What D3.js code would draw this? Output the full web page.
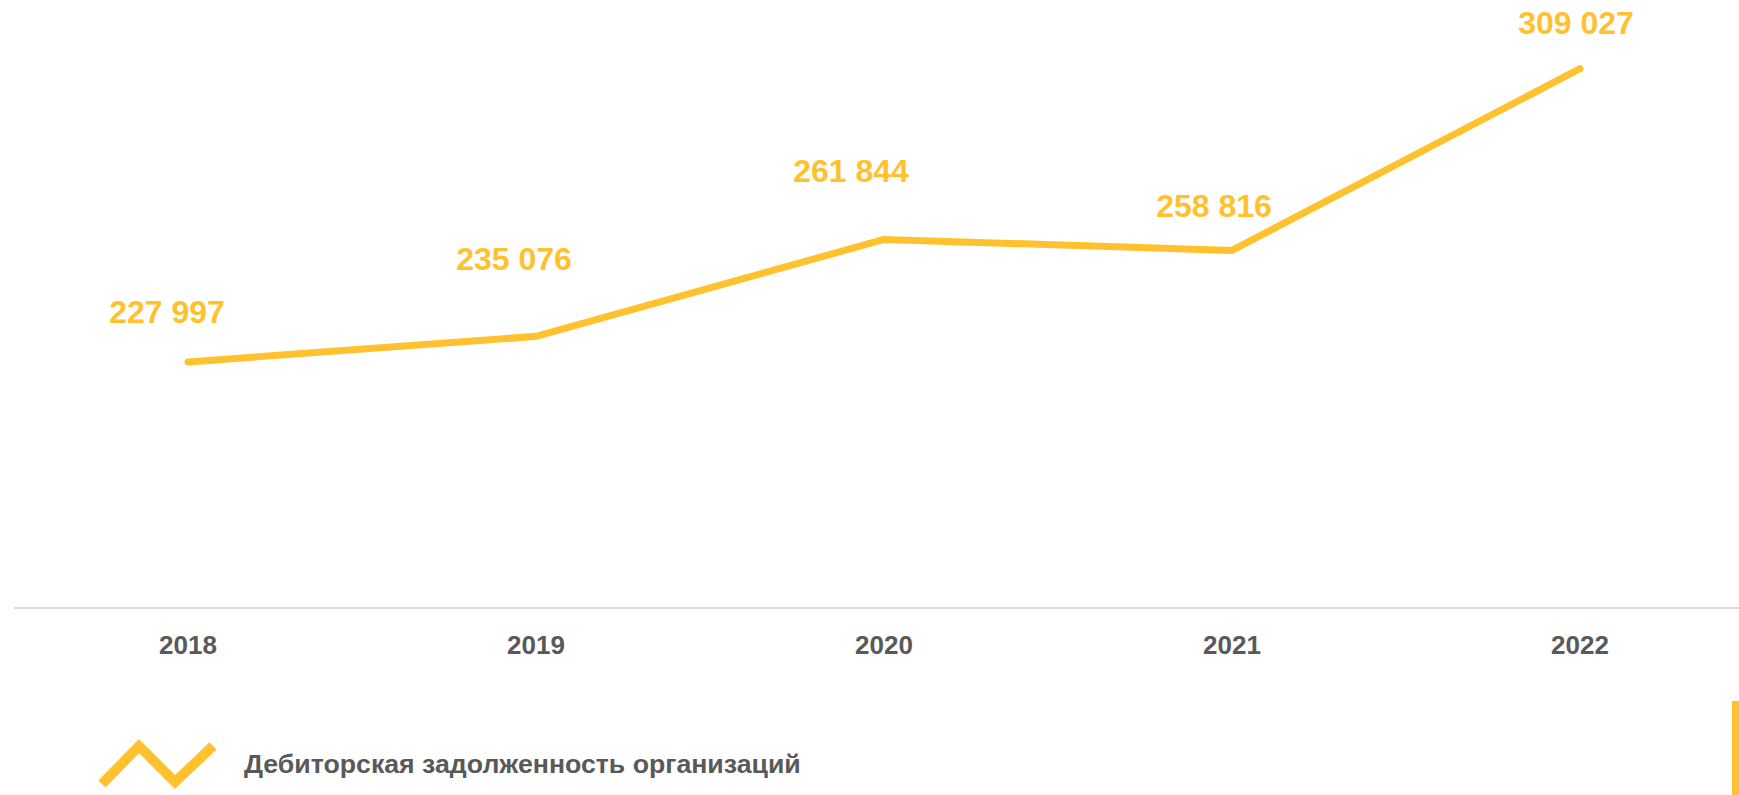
<!DOCTYPE html>
<html><head><meta charset="utf-8">
<script src="https://cdn.jsdelivr.net/npm/d3@7/dist/d3.min.js"></script>
<style>html,body{margin:0;padding:0;background:#fff;overflow:hidden}svg{display:block}</style>
</head><body>
<svg id="chart" width="1739" height="795"></svg>
<script>
const years = ["2018", "2019", "2020", "2021", "2022"];
const values = [227997, 235076, 261844, 258816, 309027];
const valueLabels = ["227 997", "235 076", "261 844", "258 816", "309 027"];
const seriesName = "Дебиторская задолженность организаций";

// label placement nudges (layout only, px)
const labelDx = [-21, -22, -33, -18, -4];
const labelDy = [-39, -66, -57, -33, -35];

const W = 1739, H = 795;
const yellow = "#FFC22E", grey = "#595959";
const font = "'Liberation Sans', Arial, sans-serif";
const svg = d3.select("#chart");

const x = d3.scaleBand().domain(years).range([14, 1754]);
const y = d3.scaleLinear().domain([160000, 320000]).range([608, 29]);

// axis baseline
svg.append("line").attr("x1", 14).attr("x2", W).attr("y1", 608).attr("y2", 608)
  .attr("stroke", "#d9d9d9").attr("stroke-width", 2);

// x labels
const xAxis = d3.axisBottom(x).tickSize(0).tickPadding(0);
const gx = svg.append("g").attr("transform", "translate(0,608)").call(xAxis);
gx.select(".domain").remove();
gx.selectAll("text").attr("dy", null).attr("y", 46)
  .attr("font-family", font).attr("font-weight", "bold").attr("font-size", 26).attr("fill", grey);

// line
const line = d3.line().x((d, i) => x(years[i]) + x.bandwidth() / 2).y(d => y(d));
svg.append("path").datum(values).attr("d", line)
  .attr("fill", "none").attr("stroke", yellow).attr("stroke-width", 7)
  .attr("stroke-linecap", "round").attr("stroke-linejoin", "round");

// value labels
svg.selectAll(".vl").data(values).join("text").attr("class", "vl")
  .attr("x", (d, i) => x(years[i]) + x.bandwidth() / 2 + labelDx[i])
  .attr("y", (d, i) => y(d) + labelDy[i])
  .attr("text-anchor", "middle")
  .attr("font-family", font).attr("font-weight", "bold").attr("font-size", 32)
  .attr("fill", yellow).text((d, i) => valueLabels[i]);

// legend
const lg = svg.append("g");
lg.append("path").attr("d", d3.line()([[102, 784], [139, 746], [175, 782], [213, 746]]))
  .attr("fill", "none").attr("stroke", yellow).attr("stroke-width", 10);
lg.append("text").attr("x", 244).attr("y", 773)
  .attr("font-family", font).attr("font-weight", "bold").attr("font-size", 26.7)
  .attr("fill", grey).text(seriesName);

// right edge accent
svg.append("rect").attr("x", 1732).attr("y", 701).attr("width", 7).attr("height", 94).attr("fill", yellow);
</script>
</body></html>
